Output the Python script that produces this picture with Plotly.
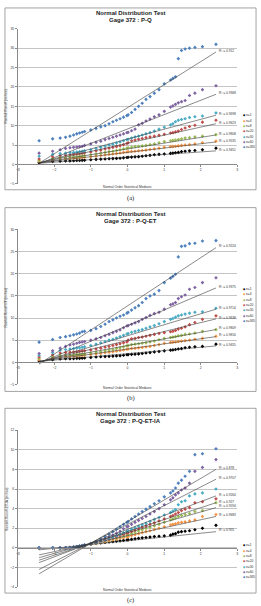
import plotly.graph_objects as go

W, H = 261, 606

# ---------------- data ----------------
series_names = ["n=1", "n=4", "n=8", "n=20", "n=30", "n=60", "n=365"]
series_colors = ["#000000", "#F79646", "#9BBB59", "#C0504D", "#4BACC6", "#8064A2", "#4F81BD"]
x_ticks = [-3, -2, -1, 0, 1, 2, 3]

# normal order statistic medians (subset of the 80 ranks)
x_medians = [-2.418, -2.048, -1.842, -1.694, -1.574, -1.475, -1.388, -1.311, -1.240, -1.175,
             -1.005, -0.861, -0.732, -0.614, -0.505, -0.401, -0.302, -0.205, -0.110, -0.016,
             0.016, 0.110, 0.205, 0.302, 0.401, 0.505, 0.614, 0.732, 0.861, 1.005,
             1.175, 1.240, 1.311, 1.388, 1.475, 1.574, 1.694, 1.842, 2.048, 2.418]

# (a) P-Q
a_n1 = [0.4, 0.8, 0.85, 0.9, 0.9, 0.95, 1.0, 1.0, 1.05, 1.1,
        1.2, 1.3, 1.35, 1.4, 1.45, 1.5, 1.55, 1.6, 1.7, 1.8,
        1.85, 1.9, 1.95, 2.0, 2.1, 2.25, 2.35, 2.5, 2.6, 2.7,
        2.85, 2.9, 3.0, 3.1, 3.3, 3.4, 3.5, 3.6, 3.8, 4.2]
a_n4 = [0.8, 1.2, 1.4, 1.5, 1.55, 1.6, 1.7, 1.75, 1.8, 1.85,
        2.0, 2.15, 2.3, 2.45, 2.6, 2.7, 2.8, 2.95, 3.1, 3.2,
        3.3, 3.35, 3.4, 3.5, 3.6, 3.7, 3.85, 4.0, 4.2, 4.4,
        4.6, 4.65, 4.7, 4.8, 4.9, 5.0, 5.1, 5.3, 5.6, 6.0]
a_n8 = [1.0, 1.5, 1.7, 1.8, 1.9, 1.95, 2.0, 2.1, 2.2, 2.3,
        2.5, 2.7, 2.9, 3.1, 3.3, 3.4, 3.6, 3.8, 4.0, 4.2,
        4.3, 4.4, 4.6, 4.7, 4.8, 4.9, 5.1, 5.3, 5.6, 5.9,
        6.1, 6.2, 6.3, 6.4, 6.6, 6.8, 6.9, 7.1, 7.3, 7.7]
a_n20 = [1.4, 2.0, 2.3, 2.4, 2.5, 2.6, 2.7, 2.8, 2.9, 3.0,
         3.2, 3.5, 3.7, 4.0, 4.2, 4.4, 4.6, 4.8, 5.1, 5.4,
         5.6, 6.1, 6.3, 6.5, 6.7, 6.9, 7.1, 7.3, 7.5, 7.8,
         8.1, 8.2, 8.4, 8.6, 9.0, 9.4, 9.8, 10.1, 10.9, 11.4]
a_n30 = [2.1, 2.6, 2.8, 2.9, 3.0, 3.1, 3.2, 3.3, 3.4, 3.5,
         3.8, 4.1, 4.4, 4.7, 5.0, 5.2, 5.5, 5.8, 6.1, 6.4,
         6.5, 6.8, 7.1, 7.3, 7.6, 7.9, 8.2, 8.6, 9.1, 9.6,
         10.2, 10.5, 11.0, 11.4, 11.6, 11.8, 12.1, 12.3, 12.5, 13.3]
a_n60 = [2.9, 3.4, 3.8, 4.1, 4.3, 4.4, 4.5, 4.6, 4.7, 4.9,
         5.3, 5.7, 6.0, 6.4, 6.7, 7.0, 7.3, 7.6, 7.9, 8.2,
         8.3, 8.7, 9.1, 10.2, 10.6, 11.2, 11.7, 12.3, 12.8, 13.7,
         14.8, 15.1, 15.5, 15.9, 16.2, 16.5, 17.8, 18.4, 19.3, 20.3]
a_n365 = [6.1, 6.6, 6.8, 7.0, 7.3, 7.6, 7.9, 8.1, 8.3, 8.5,
          8.9, 9.3, 9.7, 10.0, 10.5, 11.0, 11.4, 11.8, 12.2, 12.6,
          12.8, 13.4, 14.2, 15.0, 15.8, 16.8, 17.5, 18.4, 19.3, 20.8,
          21.8, 22.2, 22.6, 27.3, 29.4, 29.8, 30.0, 30.2, 30.4, 31.0]
a_slope = [0.662, 1.117, 1.489, 2.089, 2.543, 3.701, 5.935]
a_icept = [1.90, 3.10, 4.00, 5.45, 6.55, 9.15, 14.65]
a_r2 = ["0.9451", "0.9535", "0.9808", "0.9623", "0.9698", "0.9368", "0.912"]

# (b) P-Q-ET
b_n1 = [0.3, 0.6, 0.75, 0.8, 0.8, 0.85, 0.9, 0.9, 0.95, 1.0,
        1.1, 1.2, 1.25, 1.3, 1.35, 1.4, 1.45, 1.5, 1.6, 1.7,
        1.75, 1.8, 1.85, 1.9, 2.0, 2.1, 2.2, 2.35, 2.45, 2.6,
        2.75, 2.8, 2.9, 3.0, 3.1, 3.3, 3.4, 3.5, 3.6, 4.1]
b_n4 = [0.6, 1.0, 1.2, 1.3, 1.35, 1.4, 1.45, 1.5, 1.55, 1.6,
        1.75, 1.9, 2.0, 2.15, 2.3, 2.4, 2.5, 2.65, 2.8, 2.95,
        3.0, 3.1, 3.15, 3.25, 3.35, 3.45, 3.6, 3.8, 4.0, 4.3,
        4.5, 4.55, 4.6, 4.7, 4.8, 4.9, 5.0, 5.2, 5.4, 5.9]
b_n8 = [0.9, 1.3, 1.5, 1.6, 1.65, 1.7, 1.75, 1.8, 1.85, 1.9,
        2.1, 2.3, 2.4, 2.6, 2.8, 2.9, 3.1, 3.3, 3.5, 3.7,
        3.8, 4.0, 4.1, 4.2, 4.3, 4.4, 4.6, 4.8, 5.1, 5.4,
        5.6, 5.7, 5.8, 6.0, 6.1, 6.3, 6.4, 6.6, 7.0, 7.4]
b_n20 = [1.2, 1.7, 2.1, 2.2, 2.3, 2.35, 2.4, 2.5, 2.55, 2.6,
         2.8, 3.0, 3.2, 3.4, 3.6, 3.8, 4.0, 4.2, 4.4, 4.6,
         5.0, 5.3, 5.4, 5.6, 5.7, 5.9, 6.1, 6.3, 6.5, 6.7,
         6.9, 7.0, 7.2, 7.5, 7.7, 8.0, 8.5, 9.0, 9.7, 10.5]
b_n30 = [1.6, 2.2, 2.7, 2.9, 3.0, 3.1, 3.2, 3.3, 3.4, 3.5,
         3.8, 4.1, 4.4, 4.7, 5.0, 5.2, 5.5, 5.8, 6.1, 6.4,
         6.5, 6.8, 7.0, 7.2, 7.4, 7.7, 8.0, 8.3, 8.7, 9.2,
         9.7, 9.9, 10.2, 10.5, 10.7, 10.9, 11.1, 11.3, 11.4, 12.2]
b_n60 = [2.0, 2.6, 3.2, 3.6, 3.9, 4.1, 4.3, 4.5, 4.6, 4.7,
         5.0, 5.3, 5.6, 6.0, 6.3, 6.7, 7.0, 7.3, 7.8, 8.2,
         8.3, 8.6, 8.9, 9.2, 9.7, 10.1, 10.6, 11.0, 11.3, 12.0,
         13.0, 13.2, 13.5, 14.4, 14.8, 15.2, 16.5, 16.9, 18.0, 19.1]
b_n365 = [4.55, 5.15, 5.6, 5.8, 6.0, 6.2, 6.4, 6.6, 6.9, 7.0,
          7.2, 7.6, 8.1, 8.6, 9.2, 9.6, 10.0, 10.4, 10.7, 11.1,
          11.3, 11.8, 12.3, 12.8, 13.5, 14.4, 15.0, 15.4, 16.2, 18.0,
          19.0, 19.4, 19.9, 23.8, 26.2, 26.3, 26.8, 26.9, 27.4, 27.5]
b_slope = [0.724, 1.158, 1.489, 2.006, 2.481, 3.515, 5.438]
b_icept = [1.95, 3.00, 3.80, 4.95, 6.00, 8.30, 12.75]
b_r2 = ["0.9455", "0.9816", "0.9809", "0.9638", "0.9714", "0.9375", "0.9224"]

# (c) P-Q-ET-IA
c_n1 = [0.0, 0.0, 0.0, 0.0, 0.02, 0.06, 0.1, 0.15, 0.2, 0.25,
        0.38, 0.45, 0.5, 0.55, 0.6, 0.64, 0.68, 0.72, 0.76, 0.8,
        0.82, 0.87, 0.92, 0.97, 1.02, 1.06, 1.1, 1.15, 1.18, 1.22,
        1.3, 1.4, 1.45, 1.6, 1.65, 1.7, 1.75, 1.85, 2.0, 2.3]
c_n4 = [0.0, 0.0, 0.0, 0.0, 0.02, 0.06, 0.1, 0.15, 0.2, 0.25,
        0.38, 0.46, 0.55, 0.63, 0.72, 0.8, 0.88, 0.96, 1.04, 1.12,
        1.15, 1.25, 1.35, 1.45, 1.55, 1.65, 1.75, 1.87, 2.0, 2.15,
        2.35, 2.4, 2.45, 2.55, 2.6, 2.65, 2.75, 2.85, 3.2, 3.4]
c_n8 = [0.0, 0.0, 0.0, 0.0, 0.02, 0.06, 0.1, 0.15, 0.2, 0.26,
        0.4, 0.5, 0.6, 0.7, 0.8, 0.9, 1.0, 1.1, 1.2, 1.32,
        1.36, 1.48, 1.6, 1.72, 1.85, 1.98, 2.1, 2.25, 2.4, 2.6,
        2.85, 2.95, 3.05, 3.2, 3.3, 3.4, 3.5, 3.7, 3.8, 4.6]
c_n20 = [0.0, 0.0, 0.0, 0.0, 0.02, 0.06, 0.1, 0.15, 0.2, 0.26,
         0.4, 0.52, 0.64, 0.76, 0.88, 1.0, 1.12, 1.24, 1.37, 1.5,
         1.55, 1.68, 1.8, 1.95, 2.1, 2.25, 2.4, 2.55, 2.75, 2.95,
         3.2, 3.3, 3.45, 3.6, 3.8, 3.95, 4.1, 4.6, 4.7, 5.0]
c_n30 = [0.0, 0.0, 0.0, 0.0, 0.02, 0.06, 0.1, 0.15, 0.21, 0.27,
         0.42, 0.55, 0.68, 0.82, 0.96, 1.1, 1.24, 1.38, 1.54, 1.7,
         1.75, 1.9, 2.05, 2.2, 2.35, 2.5, 2.7, 2.9, 3.1, 3.35,
         3.6, 3.75, 3.9, 4.4, 4.7, 4.8, 5.3, 5.5, 5.6, 6.0]
c_n60 = [0.0, 0.0, 0.0, 0.0, 0.03, 0.07, 0.12, 0.17, 0.23, 0.29,
         0.44, 0.6, 0.78, 0.95, 1.12, 1.3, 1.5, 1.7, 1.95, 2.15,
         2.2, 2.4, 2.6, 2.8, 3.0, 3.2, 3.45, 3.7, 4.0, 4.4,
         4.9, 5.1, 5.4, 5.6, 5.9, 6.1, 6.6, 7.8, 8.2, 9.0]
c_n365 = [0.0, 0.0, 0.0, 0.0, 0.03, 0.08, 0.13, 0.18, 0.24, 0.3,
          0.45, 0.65, 0.9, 1.15, 1.4, 1.65, 1.9, 2.15, 2.4, 2.6,
          2.7, 2.95, 3.2, 3.45, 3.7, 3.95, 4.2, 4.5, 4.8, 5.2,
          5.6, 5.8, 6.1, 6.6, 6.9, 7.3, 7.8, 9.5, 9.6, 10.1]
c_slope = [0.383, 0.811, 1.055, 1.210, 1.406, 1.902, 2.202]
c_icept = [0.725, 1.24, 1.55, 1.675, 1.90, 2.40, 2.675]
c_r2 = ["0.955", "0.9683", "0.9594", "0.927", "0.9264", "0.9707", "0.878"]

chart_subtitles = ["Gage 372 : P-Q", "Gage 372 : P-Q-ET", "Gage 372 : P-Q-ET-IA"]
chart_ytitles = ["Rainfall-Runoff (inches)", "Rainfall-Runoff-ET (inches)", "Rainfall-Runoff-ET-IA (inches)"]
chart_captions = ["(a)", "(b)", "(c)"]
y_ranges = [(-5, 35, 5), (-5, 30, 5), (-4, 12, 2)]

# ---------------- layout geometry (pixels) ----------------
FONT = "Liberation Sans, Arial, sans-serif"
geo = [
    dict(box=(3, 6, 257, 189), top=27, bottom=183, title=11.5, sub=18.5, xt=186, leg=114, cap=197),
    dict(box=(3, 207, 257, 392), top=229, bottom=385, title=213, sub=220.5, xt=388.5, leg=289, cap=399),
    dict(box=(3, 409, 257, 595), top=431, bottom=589, title=414.5, sub=422, xt=592, leg=547, cap=601.5),
]
PL, PR = 16, 238


def px_x(p):
    return p / W


def px_y(p):
    return 1 - p / H


all_series = [
    [a_n1, a_n4, a_n8, a_n20, a_n30, a_n60, a_n365],
    [b_n1, b_n4, b_n8, b_n20, b_n30, b_n60, b_n365],
    [c_n1, c_n4, c_n8, c_n20, c_n30, c_n60, c_n365],
]
all_slopes = [a_slope, b_slope, c_slope]
all_icepts = [a_icept, b_icept, c_icept]
all_r2 = [a_r2, b_r2, c_r2]

fig = go.Figure()
layout = dict(width=W, height=H, autosize=False, margin=dict(l=0, r=0, t=0, b=0),
              paper_bgcolor="white", plot_bgcolor="white", showlegend=False,
              font=dict(family=FONT, color="#222"))
shapes, annotations = [], []

xmin, xmax = min(x_medians), max(x_medians)

for ci in range(3):
    g = geo[ci]
    sfx = "" if ci == 0 else str(ci + 1)
    xref, yref = "x" + sfx, "y" + sfx
    y0, y1, dt = y_ranges[ci]
    ydom = [px_y(g["bottom"]), px_y(g["top"])]
    zero_pos = ydom[0] + (0 - y0) / (y1 - y0) * (ydom[1] - ydom[0])

    layout["xaxis" + sfx] = dict(
        domain=[px_x(PL), px_x(PR)], range=[-3, 3], tickvals=x_ticks,
        anchor="free", position=zero_pos, showline=True, linecolor="#8a8a8a", linewidth=0.8,
        ticks="outside", ticklen=2, tickcolor="#8a8a8a", tickwidth=0.6,
        tickfont=dict(size=3.4, family=FONT, color="#333"), showgrid=False, zeroline=False)
    layout["yaxis" + sfx] = dict(
        domain=ydom, range=[y0, y1], dtick=dt, tick0=y0, anchor=xref,
        showgrid=True, gridcolor="#c4c4c4", gridwidth=0.8, zeroline=False,
        showline=True, linecolor="#8a8a8a", linewidth=0.8, ticks="outside", ticklen=2,
        tickcolor="#8a8a8a", tickwidth=0.6,
        tickfont=dict(size=3.4, family=FONT, color="#333"))

    # chart frame
    bx0, by0, bx1, by1 = g["box"]
    shapes.append(dict(type="rect", xref="paper", yref="paper", layer="below",
                       x0=px_x(bx0), x1=px_x(bx1), y0=px_y(by1), y1=px_y(by0),
                       line=dict(color="#8c8c8c", width=0.8), fillcolor="white"))

    # points
    for si, ys in enumerate(all_series[ci]):
        fig.add_trace(go.Scatter(x=x_medians, y=ys, mode="markers", xaxis=xref, yaxis=yref,
                                 name=series_names[si],
                                 marker=dict(symbol="diamond", size=2.8, color=series_colors[si],
                                             line=dict(width=0))))
    # trendlines + R2 labels
    for si in range(7):
        m, b = all_slopes[ci][si], all_icepts[ci][si]
        yl = [b + m * xmin, b + m * xmax]
        fig.add_trace(go.Scatter(x=[xmin, xmax], y=yl, mode="lines", xaxis=xref, yaxis=yref,
                                 line=dict(color="#3a3a3a", width=0.6), hoverinfo="skip"))
        annotations.append(dict(x=xmax, y=yl[1], xref=xref, yref=yref, showarrow=False,
                                text="R² = " + all_r2[ci][si], xanchor="left", yanchor="middle",
                                xshift=1.5, yshift=1.2,
                                font=dict(size=3.2, family=FONT, color="#333")))

    # legend (manual, compact)
    for si in range(7):
        yy = g["leg"] + si * 5.35
        annotations.append(dict(x=px_x(242.2), y=px_y(yy), xref="paper", yref="paper",
                                showarrow=False, xanchor="left", yanchor="middle",
                                text="<span style='color:%s'>◆</span> %s" % (series_colors[si], series_names[si]),
                                font=dict(size=3.3, family=FONT, color="#333")))

    # titles
    cx = (bx0 + bx1) / 2
    annotations.append(dict(x=px_x(cx), y=px_y(g["title"]), xref="paper", yref="paper",
                            showarrow=False, xanchor="center", yanchor="middle",
                            text="<b>Normal Distribution Test</b>",
                            font=dict(size=6, family=FONT, color="#222")))
    annotations.append(dict(x=px_x(cx), y=px_y(g["sub"]), xref="paper", yref="paper",
                            showarrow=False, xanchor="center", yanchor="middle",
                            text="<b>%s</b>" % chart_subtitles[ci],
                            font=dict(size=6, family=FONT, color="#222")))
    annotations.append(dict(x=px_x((PL + PR) / 2), y=px_y(g["xt"]), xref="paper", yref="paper",
                            showarrow=False, xanchor="center", yanchor="middle",
                            text="Normal Order Statistical Medians",
                            font=dict(size=3.3, family=FONT, color="#333")))
    annotations.append(dict(x=px_x(4.5), y=px_y((g["top"] + g["bottom"]) / 2), xref="paper", yref="paper",
                            showarrow=False, xanchor="center", yanchor="middle", textangle=-90,
                            text=chart_ytitles[ci],
                            font=dict(size=3.3, family=FONT, color="#333")))
    annotations.append(dict(x=px_x(130), y=px_y(g["cap"]), xref="paper", yref="paper",
                            showarrow=False, xanchor="center", yanchor="middle",
                            text=chart_captions[ci],
                            font=dict(size=6.5, family="Liberation Serif, serif", color="#222")))

layout["shapes"] = shapes
layout["annotations"] = annotations
fig.update_layout(**layout)
fig.write_html("out.html")
